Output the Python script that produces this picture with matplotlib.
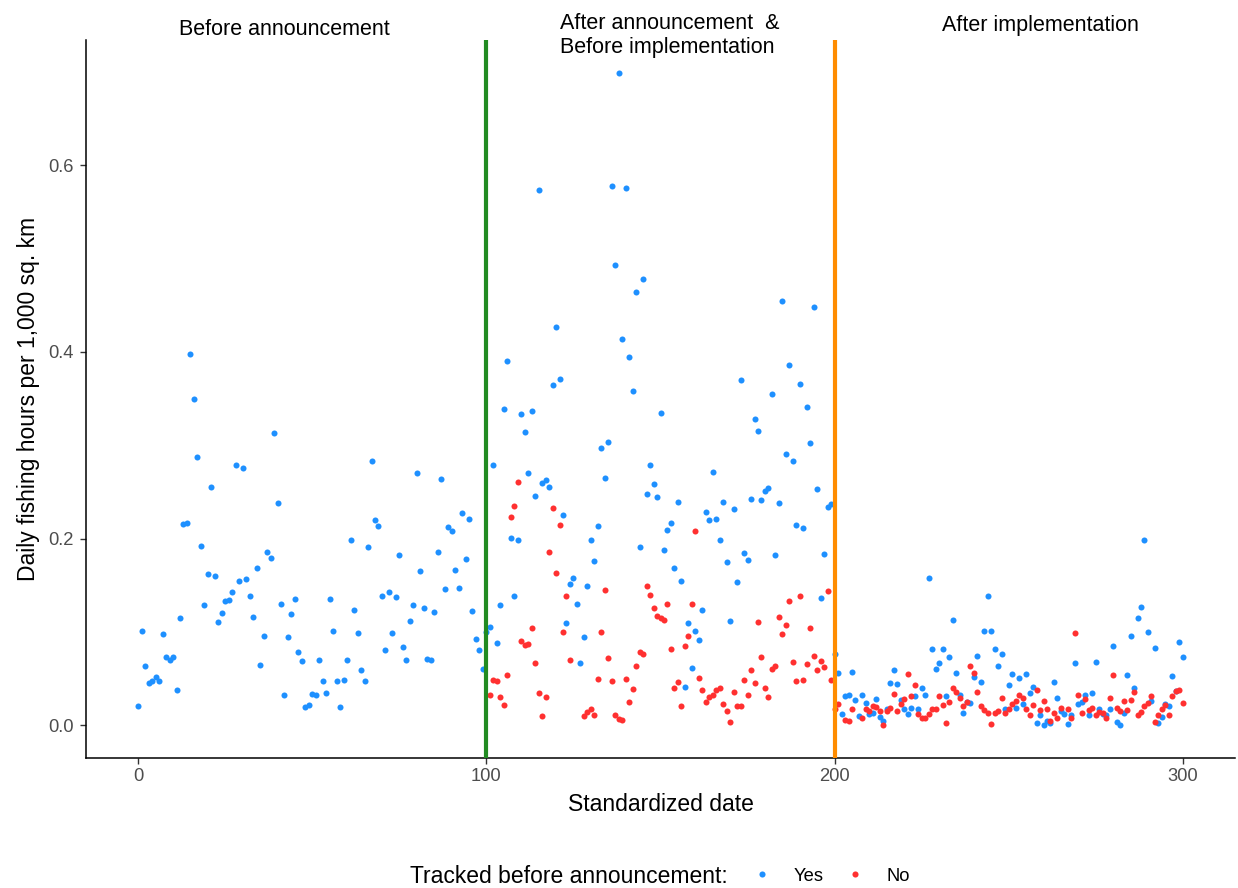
import numpy as np
import matplotlib
matplotlib.use("Agg")
import matplotlib.pyplot as plt
from matplotlib.lines import Line2D

plt.rcParams['font.family'] = ['Liberation Sans', 'DejaVu Sans']

# blue: tracked before announcement (days 0..300)
yes_days = np.arange(0, 301)
yes_vals = [
    0.021, 0.101, 0.063, 0.045, 0.047, 0.052, 0.048, 0.098, 0.073, 0.070,
    0.073, 0.038, 0.115, 0.216, 0.217, 0.398, 0.350, 0.287, 0.192, 0.129,
    0.162, 0.255, 0.160, 0.111, 0.120, 0.133, 0.134, 0.143, 0.279, 0.155,
    0.276, 0.157, 0.139, 0.116, 0.169, 0.065, 0.096, 0.186, 0.179, 0.313,
    0.238, 0.130, 0.032, 0.095, 0.119, 0.135, 0.079, 0.069, 0.020, 0.022,
    0.034, 0.033, 0.070, 0.048, 0.035, 0.135, 0.101, 0.047, 0.020, 0.049,
    0.070, 0.198, 0.124, 0.099, 0.059, 0.047, 0.191, 0.283, 0.220, 0.214,
    0.139, 0.081, 0.143, 0.099, 0.137, 0.182, 0.084, 0.070, 0.112, 0.129,
    0.270, 0.165, 0.126, 0.071, 0.070, 0.121, 0.186, 0.264, 0.146, 0.212,
    0.208, 0.166, 0.147, 0.227, 0.178, 0.221, 0.122, 0.092, 0.081, 0.060,
    0.100, 0.105, 0.279, 0.088, 0.129, 0.339, 0.390, 0.201, 0.139, 0.198,
    0.333, 0.314, 0.270, 0.337, 0.246, 0.573, 0.260, 0.263, 0.255, 0.364,
    0.427, 0.371, 0.225, 0.110, 0.151, 0.158, 0.130, 0.067, 0.095, 0.149,
    0.199, 0.176, 0.214, 0.297, 0.265, 0.303, 0.578, 0.493, 0.699, 0.414,
    0.576, 0.394, 0.358, 0.464, 0.191, 0.478, 0.248, 0.279, 0.258, 0.245,
    0.335, 0.188, 0.209, 0.217, 0.169, 0.239, 0.155, 0.041, 0.110, 0.061,
    0.101, 0.091, 0.123, 0.229, 0.220, 0.271, 0.221, 0.198, 0.239, 0.175,
    0.112, 0.232, 0.153, 0.370, 0.185, 0.177, 0.242, 0.328, 0.315, 0.241,
    0.251, 0.254, 0.355, 0.182, 0.238, 0.454, 0.291, 0.386, 0.283, 0.215,
    0.366, 0.211, 0.341, 0.302, 0.448, 0.253, 0.136, 0.183, 0.234, 0.237,
    0.076, 0.056, 0.012, 0.031, 0.032, 0.057, 0.027, 0.010, 0.033, 0.024,
    0.012, 0.013, 0.028, 0.009, 0.005, 0.017, 0.045, 0.059, 0.044, 0.027,
    0.017, 0.012, 0.019, 0.031, 0.018, 0.040, 0.033, 0.158, 0.082, 0.060,
    0.067, 0.082, 0.031, 0.073, 0.113, 0.056, 0.033, 0.013, 0.025, 0.024,
    0.052, 0.074, 0.046, 0.101, 0.138, 0.101, 0.082, 0.064, 0.076, 0.017,
    0.043, 0.055, 0.019, 0.051, 0.023, 0.055, 0.035, 0.041, 0.002, 0.011,
    0.000, 0.005, 0.003, 0.046, 0.029, 0.015, 0.012, 0.001, 0.011, 0.067,
    0.023, 0.025, 0.033, 0.011, 0.035, 0.068, 0.017, 0.012, 0.011, 0.018,
    0.085, 0.004, 0.000, 0.013, 0.054, 0.096, 0.040, 0.115, 0.127, 0.198,
    0.100, 0.026, 0.083, 0.002, 0.009, 0.023, 0.021, 0.053, 0.037, 0.089,
    0.073,
]

# red: not tracked before announcement (days 101..300)
nan = np.nan
no_days = np.arange(101, 301)
no_vals = [
    0.032, 0.049, 0.048, 0.030, 0.022, 0.054, 0.223, 0.235, 0.261, 0.090,
    0.086, 0.087, 0.104, 0.067, 0.035, 0.010, 0.030, 0.186, 0.233, 0.163,
    0.215, 0.100, 0.138, 0.070, nan, nan, nan, 0.010, 0.014, 0.017,
    0.011, 0.050, 0.100, 0.145, 0.072, 0.047, 0.011, 0.007, 0.006, 0.050,
    0.025, 0.039, 0.063, 0.079, 0.076, 0.149, 0.140, 0.126, 0.117, 0.115,
    0.113, 0.130, 0.082, 0.040, 0.046, 0.021, 0.085, 0.096, 0.130, 0.208,
    0.051, 0.038, 0.025, 0.030, 0.033, 0.038, 0.040, 0.023, 0.015, 0.004,
    0.036, 0.021, 0.021, 0.049, 0.033, 0.059, 0.045, 0.111, 0.073, 0.040,
    0.030, 0.060, 0.064, 0.116, 0.098, 0.107, 0.133, 0.068, 0.047, 0.138,
    0.049, 0.066, 0.104, 0.074, 0.059, 0.069, 0.062, 0.144, 0.049, 0.018,
    0.023, nan, 0.006, 0.005, 0.018, nan, nan, 0.008, 0.017, 0.015,
    0.021, 0.020, 0.015, 0.000, 0.015, 0.019, 0.034, 0.015, 0.023, 0.028,
    0.055, 0.031, 0.043, 0.012, 0.008, 0.008, 0.012, 0.017, 0.018, 0.031,
    0.022, 0.003, 0.025, 0.040, 0.036, 0.029, 0.021, 0.025, 0.064, 0.056,
    0.036, 0.021, 0.016, 0.013, 0.001, 0.013, 0.015, 0.029, 0.013, 0.018,
    0.023, 0.026, 0.032, 0.029, 0.018, 0.011, 0.022, 0.038, 0.016, 0.026,
    0.018, 0.005, 0.013, 0.008, 0.019, nan, 0.017, 0.008, 0.099, 0.032,
    0.013, 0.028, 0.016, 0.019, 0.011, 0.014, 0.013, 0.008, 0.029, 0.054,
    0.019, 0.015, 0.026, 0.016, 0.027, 0.036, 0.011, 0.014, 0.021, 0.024,
    0.031, 0.004, 0.011, 0.017, 0.022, 0.011, 0.031, 0.037, 0.038, 0.024,
]

events = [100, 200]
event_colors = ['#228B22', '#FF8C00']
phase_labels = ["Before announcement", "After announcement  &\nBefore implementation",
                "After implementation"]
blue = '#1E90FF'
red = '#FF3030'

fig = plt.figure(figsize=(12.38, 8.88), dpi=100)
ax = fig.add_axes([86 / 1238, 1 - 758 / 888, (1235 - 86) / 1238, (758 - 40) / 888])

ax.scatter(yes_days, yes_vals, s=19, color=blue, linewidths=0, zorder=2)
ax.scatter(no_days, no_vals, s=19, color=red, linewidths=0, zorder=3)
for x, c in zip(events, event_colors):
    ax.axvline(x, color=c, lw=3.0, zorder=4)

ax.set_xlim(-15, 315)
ax.set_ylim(-0.035, 0.734)
ax.set_xticks([0, 100, 200, 300])
ax.set_yticks([0.0, 0.2, 0.4, 0.6])
ax.set_yticklabels(["0.0", "0.2", "0.4", "0.6"])

for s in ['top', 'right']:
    ax.spines[s].set_visible(False)
for s in ['left', 'bottom']:
    ax.spines[s].set_linewidth(1.1)
    ax.spines[s].set_color('black')
ax.tick_params(length=4, width=1, color='#333333', labelcolor='#4D4D4D',
               labelsize=13.2, pad=3)
ax.tick_params(axis='y', pad=5)

ax.set_xlabel("Standardized date", fontsize=16.5, labelpad=6)
ax.set_ylabel("Daily fishing hours per 1,000 sq. km", fontsize=16.5, labelpad=6)

ax.text(42, 0.745, phase_labels[0], ha='center', va='center', fontsize=15.5, clip_on=False)
ax.text(121.2, 0.739, phase_labels[1], ha='left', va='center', fontsize=15.5,
        linespacing=1.2, clip_on=False)
ax.text(259, 0.750, phase_labels[2], ha='center', va='center', fontsize=15.5, clip_on=False)

# legend at bottom
ly = 1 - 876 / 888
fig.text(410 / 1238, ly, "Tracked before announcement:", ha='left', va='center', fontsize=16.5)
handles = [Line2D([], [], marker='o', ls='', color=blue, markersize=4.4, mew=0),
           Line2D([], [], marker='o', ls='', color=red, markersize=4.4, mew=0)]
fig.legend(handles, ["Yes", "No"], loc='center left', bbox_to_anchor=(749 / 1238, ly),
           ncol=2, frameon=False, fontsize=13.2, handlelength=1.42, handletextpad=1.0,
           columnspacing=1.0, borderpad=0, borderaxespad=0)

fig.savefig("out.png", dpi=100)
